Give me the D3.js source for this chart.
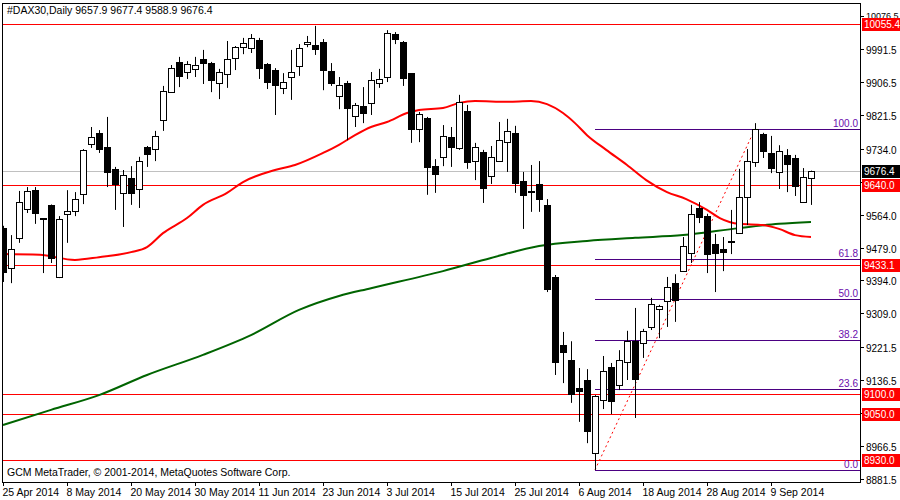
<!DOCTYPE html>
<html><head><meta charset="utf-8">
<script src="https://cdn.jsdelivr.net/npm/d3@7"></script>
<style>body{margin:0;background:#fff}svg{display:block}text{font-family:"Liberation Sans",Arial,sans-serif}</style>
</head><body><svg id="c" width="900" height="500"></svg>
<script>
const opens  =[9530,9426,9503,9578,9627,9555,9589,9403,9565,9573,9617,9746,9775,9738,9682,9620,9658,9630,9738,9733,9808,9880,9958,9932,9940,9966,9955,9904,9927,9968,9996,9994,10015,9953,9937,9891,9919,9947,10004,10002,10009,9935,9870,9904,9818,9844,9852,9903,9919,10030,10009,9929,9785,9813,9689,9712,9764,9736,9831,9702,9725,9663,9702,9751,9775,9651,9625,9643,9589,9403,9227,9189,9116,9137,8949,9085,9170,9124,9183,9238,9233,9274,9321,9341,9387,9418,9465,9581,9560,9488,9475,9494,9516,9609,9700,9772,9723,9674,9718,9710,9596,9657.9];
const highs  =[9535,9511,9625,9635,9635,9555,9590,9560,9627,9622,9733,9790,9782,9816,9687,9679,9689,9713,9741,9780,9896,9950,9971,9960,9971,9989,9958,9940,10012,9999,10020,10030,10020,9955,9942,9929,9989,10004,10025,10051,10017,9955,9919,9909,9852,9893,9932,9940,10040,10035,10012,9929,9829,9816,9707,9795,9790,9873,9847,9749,9731,9741,9803,9811,9793,9674,9692,9702,9604,9408,9261,9237,9168,9165,9098,9199,9181,9214,9264,9323,9269,9349,9331,9403,9410,9506,9589,9596,9566,9514,9506,9576,9682,9733,9800,9775,9767,9743,9733,9718,9684,9677.4];
const lows   =[9390,9387,9491,9568,9540,9413,9439,9400,9491,9560,9591,9736,9723,9635,9576,9532,9589,9581,9687,9702,9780,9878,9893,9914,9919,9901,9880,9862,9891,9937,9978,9981,9914,9888,9821,9875,9860,9922,9996,9976,9885,9896,9836,9756,9790,9800,9821,9891,9906,10004,9896,9749,9751,9615,9620,9689,9687,9731,9682,9653,9594,9643,9700,9674,9620,9527,9571,9571,9364,9150,9129,9078,9029,8974,8905,9062,9049,9111,9137,9039,9194,9266,9245,9274,9287,9416,9439,9542,9413,9364,9418,9462,9514,9537,9687,9710,9671,9630,9622,9612,9594,9588.9];
const closes =[9416,9475,9596,9625,9568,9552,9452,9553,9573,9604,9731,9764,9733,9674,9643,9666,9620,9702,9720,9767,9883,9942,9922,9953,9950,9955,9911,9932,9966,9996,10007,10020,9942,9906,9898,9906,9932,9994,10009,9991,9937,9904,9898,9839,9847,9826,9911,9914,10033,10017,9916,9785,9823,9687,9669,9767,9738,9855,9700,9738,9633,9713,9756,9780,9646,9614,9622,9604,9372,9183,9209,9101,9109,9005,9096,9160,9083,9189,9238,9140,9264,9333,9328,9377,9343,9483,9565,9558,9462,9465,9467,9496,9609,9702,9785,9728,9684,9728,9694,9638,9661,9676.4];
const redIdx =[0,4.6,9,12,16,18,20,23,25,28,30,34,36.5,40,42,44,46,48,50.5,52,55,57,59,63,66,68,70,71.5,73,75.4,78,80.4,83,85.4,88,89.6,92,95,97,99,101];
const redVal =[9462,9460,9447,9454,9467,9480,9516,9555,9589,9620,9648,9679,9692,9723,9744,9769,9790,9803,9826,9834,9839,9852,9857,9855,9857,9849,9826,9800,9769,9731,9692,9653,9622,9604,9576,9555,9540,9537,9527,9511,9506];
const greenIdx=[0,6,12,18,25,31,37,42,46,55,61,67,73,79,85,92,97,101];
const greenVal=[9021,9060,9098,9150,9202,9253,9318,9354,9374,9418,9452,9483,9496,9504,9511,9529,9540,9545];
const hLevels=[10055.4,9640.0,9433.1,9100.0,9050.0,8930.0];
const lastPrice=9676.4;
const fibLevels=[0,23.6,38.2,50,61.8,100];
const fibLow=8905, fibHigh=9785, fibStartIdx=74, fibHighIdx=94;
const priceTicks=[10076.5,9991.5,9906.5,9821.5,9734.0,9649.0,9564.0,9479.0,9394.0,9309.0,9221.5,9136.5,9051.5,8966.5,8881.5];
const hiddenTicks=[9649.0,9051.5];
const dateLabels=["25 Apr 2014","8 May 2014","20 May 2014","30 May 2014","11 Jun 2014","23 Jun 2014","3 Jul 2014","15 Jul 2014","25 Jul 2014","6 Aug 2014","18 Aug 2014","28 Aug 2014","9 Sep 2014"];
const dateIdx=[0,8,16,24,32,40,48,56,64,72,80,88,96];

const svg=d3.select("#c");
const L=2,R=860,T=3,B=482;
const x=d3.scaleLinear().domain([0,101]).range([3,811]);
const y=d3.scaleLinear().domain([8881.5,10076.5]).range([479,16]);
svg.append("clipPath").attr("id","pc").append("rect").attr("x",L).attr("y",T).attr("width",R-L).attr("height",B-T);
const g=svg.append("g").attr("clip-path","url(#pc)");
const ax=v=>Math.round(v)+0.5;

g.append("line").attr("x1",L).attr("x2",R).attr("y1",ax(y(lastPrice))).attr("y2",ax(y(lastPrice))).attr("stroke","#c0c0c0");
hLevels.forEach(v=>g.append("line").attr("x1",L).attr("x2",R).attr("y1",ax(y(v))).attr("y2",ax(y(v))).attr("stroke","#ff0000"));
const purple="#4b0082";
fibLevels.forEach(p=>{const v=fibLow+(fibHigh-fibLow)*p/100;const yy=ax(y(v));
 g.append("line").attr("x1",x(fibStartIdx)).attr("x2",R).attr("y1",yy).attr("y2",yy).attr("stroke",purple);
 g.append("text").attr("x",R-2).attr("y",yy-3).attr("text-anchor","end").attr("font-size",10).attr("fill","#6a0dad").text(p.toFixed(1));});
g.append("line").attr("x1",x(fibStartIdx)).attr("y1",y(fibLow)).attr("x2",x(fibHighIdx)).attr("y2",y(fibHigh)).attr("stroke","#ff0000").attr("stroke-dasharray","2,3");
const line=d3.line().curve(d3.curveMonotoneX);
g.append("path").attr("d",line(greenIdx.map((d,i)=>[x(d),y(greenVal[i])]))).attr("fill","none").attr("stroke","#006400").attr("stroke-width",2);
g.append("path").attr("d",line(redIdx.map((d,i)=>[i===0?L:x(d),y(redVal[i])]))).attr("fill","none").attr("stroke","#ff0000").attr("stroke-width",2);
opens.forEach((o,i)=>{const c=closes[i],cx=Math.round(x(i))+0.5;const up=c>=o;
 g.append("line").attr("x1",cx).attr("x2",cx).attr("y1",y(highs[i])).attr("y2",y(lows[i])).attr("stroke","#000");
 const t=Math.round(y(Math.max(o,c))),b=Math.round(y(Math.min(o,c)));
 if(b-t<1){g.append("line").attr("x1",cx-3).attr("x2",cx+3).attr("y1",t+0.5).attr("y2",t+0.5).attr("stroke","#000");}
 else g.append("rect").attr("x",cx-3).attr("y",t+0.5).attr("width",6).attr("height",b-t).attr("fill",up?"#fff":"#000").attr("stroke","#000");
});
svg.append("rect").attr("x",L+0.5).attr("y",T+0.5).attr("width",R-L).attr("height",B-T).attr("fill","none").attr("stroke","#000");
priceTicks.forEach(v=>{const yy=ax(y(v));
 svg.append("line").attr("x1",R).attr("x2",R+4).attr("y1",yy).attr("y2",yy).attr("stroke","#000");
 if(!hiddenTicks.includes(v)) svg.append("text").attr("x",866).attr("y",v===10076.5?yy+2:yy+4).attr("font-size",v===10076.5?9:10).text(v.toFixed(1));});
function tag(v,bg){const yy=Math.round(y(v));svg.append("rect").attr("x",862).attr("y",yy-6).attr("width",38).attr("height",13).attr("fill",bg);
 svg.append("text").attr("x",864).attr("y",yy+4).attr("font-size",10).attr("fill","#fff").text(v.toFixed(1));}
hLevels.forEach(v=>tag(v,"#ff0000"));
tag(lastPrice,"#000");
dateIdx.forEach((d,i)=>{const xx=Math.round(x(d))+0.5;
 svg.append("line").attr("x1",xx).attr("x2",xx).attr("y1",B).attr("y2",B+4).attr("stroke","#000");
 svg.append("text").attr("x",xx-1).attr("y",496).attr("font-size",10.5).text(dateLabels[i]);});
svg.append("text").attr("x",7).attr("y",14).attr("font-size",10.5).text("#DAX30,Daily  9657.9 9677.4 9588.9 9676.4");
svg.append("text").attr("x",7).attr("y",476).attr("font-size",10.5).text("GCM MetaTrader, © 2001-2014, MetaQuotes Software Corp.");
</script></body></html>
